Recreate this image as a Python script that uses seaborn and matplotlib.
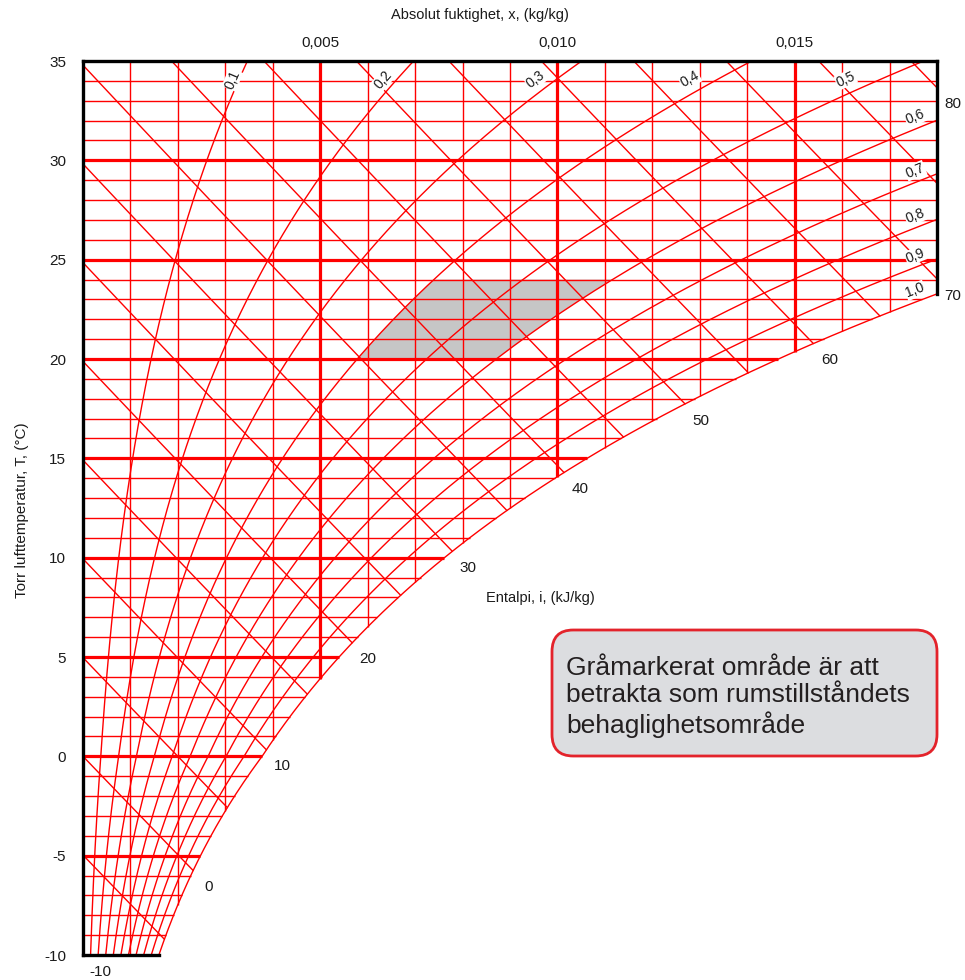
import numpy as np
import pandas as pd
import matplotlib
matplotlib.use("Agg")
import matplotlib.pyplot as plt
from matplotlib.patches import FancyBboxPatch
import seaborn as sns

# ---------------- chart content ----------------
rh_levels = [0.1, 0.2, 0.3, 0.4, 0.5, 0.6, 0.7, 0.8, 0.9, 1.0]
rh_labels = ["0,1", "0,2", "0,3", "0,4", "0,5", "0,6", "0,7", "0,8", "0,9", "1,0"]
enthalpy_levels = [-10, -5, 0, 5, 10, 15, 20, 25, 30, 35, 40, 45, 50, 55, 60, 65, 70, 75, 80]
enthalpy_labels = [-10, 0, 10, 20, 30, 40, 50, 60, 70, 80]
temp_ticks = [-10, -5, 0, 5, 10, 15, 20, 25, 30, 35]
humidity_ticks = [0.005, 0.010, 0.015]
humidity_tick_labels = ["0,005", "0,010", "0,015"]
temp_grid = list(range(-9, 35))
humidity_grid = [i / 1000 for i in range(1, 18)]
comfort_temp = [20, 24]
comfort_rh = [0.40, 0.60]
pressure = 101325.0
t_min, t_max = -10.0, 35.0
x_max = 0.018
note = "Gråmarkerat område är att\nbetrakta som rumstillståndets\nbehaglighetsområde"

RED = "#ff0000"
THIN, THICK, FRAME = 1.0, 2.3, 2.4


# ---------------- moist air relations ----------------
def p_sat(t):
    t = np.asarray(t, float)
    water = 611.2 * np.exp(17.62 * t / (243.12 + t))
    ice = 611.2 * np.exp(22.46 * t / (272.62 + t))
    return np.where(t < 0, ice, water)


def humidity(t, phi):
    pv = phi * p_sat(t)
    return 0.622 * pv / (pressure - pv)


def enthalpy(t, x):
    return 1.006 * t + x * (2501 + 1.86 * t)


def t_of_h(h, x):
    return (h - 2501 * x) / (1.006 + 1.86 * x)


def bisect(f, lo, hi, n=80):
    flo = f(lo)
    for _ in range(n):
        mid = 0.5 * (lo + hi)
        if (f(mid) > 0) == (flo > 0):
            lo, flo = mid, f(mid)
        else:
            hi = mid
    return 0.5 * (lo + hi)


def sat_temp(x, phi=1.0):
    return bisect(lambda t: float(humidity(t, phi)) - x, -40, 60)


# ---------------- figure ----------------
sns.set_theme(style="white")
plt.rcParams["font.family"] = ["Liberation Sans", "DejaVu Sans"]

fig = plt.figure(figsize=(9.65, 9.80), dpi=100)
ax = fig.add_axes([83 / 965, 1 - 955 / 980, (937 - 83) / 965, (955 - 61) / 980])
ax.set_xlim(0, x_max)
ax.set_ylim(t_min, t_max)
for s in ax.spines.values():
    s.set_visible(False)

# comfort zone
tz = np.linspace(comfort_temp[0], comfort_temp[1], 60)
zone_x = np.concatenate([humidity(tz, comfort_rh[0]), humidity(tz[::-1], comfort_rh[1])])
zone_t = np.concatenate([tz, tz[::-1]])
ax.fill(zone_x, zone_t, color="#c6c6c6", lw=0, zorder=1)

# constant temperature lines
for t in temp_grid:
    xe = min(float(humidity(t, 1.0)), x_max)
    ax.plot([0, xe], [t, t], color=RED, lw=THICK if t % 5 == 0 else THIN,
            solid_capstyle="butt", zorder=2)

# constant humidity lines
for x in humidity_grid:
    ts = sat_temp(x)
    thick = round(x * 1000) % 5 == 0
    ax.plot([x, x], [ts, t_max], color=RED, lw=THICK if thick else THIN,
            solid_capstyle="butt", zorder=2)

# relative humidity curves
rh_rows = []
for phi in rh_levels:
    t_end = t_max
    if float(humidity(t_max, phi)) > x_max:
        t_end = sat_temp(x_max, phi)
    tt = np.linspace(t_min, t_end, 300)
    rh_rows.append(pd.DataFrame({"x": humidity(tt, phi), "T": tt, "phi": phi}))
rh_df = pd.concat(rh_rows, ignore_index=True)
sns.lineplot(data=rh_df, x="x", y="T", units="phi", estimator=None, sort=False,
             color=RED, lw=THIN, legend=False, ax=ax, zorder=3)

# enthalpy lines
h_rows = []
h_ends = {}
for h in enthalpy_levels:
    # start on the left or top edge
    if t_of_h(h, 0.0) <= t_max:
        x0 = 0.0
    else:
        x0 = (h - 1.006 * t_max) / (2501 + 1.86 * t_max)
    # end on saturation, right edge or bottom edge
    t_sat = bisect(lambda t: enthalpy(t, float(humidity(t, 1.0))) - h, -40, 60)
    x1 = float(humidity(t_sat, 1.0))
    x1 = min(x1, x_max)
    if t_of_h(h, x1) < t_min:
        x1 = (h - 1.006 * t_min) / (2501 + 1.86 * t_min)
    xx = np.linspace(x0, x1, 50)
    h_rows.append(pd.DataFrame({"x": xx, "T": t_of_h(h, xx), "h": h}))
    h_ends[h] = (x1, float(t_of_h(h, x1)))
h_df = pd.concat(h_rows, ignore_index=True)
sns.lineplot(data=h_df, x="x", y="T", units="h", estimator=None, sort=False,
             color=RED, lw=THIN, legend=False, ax=ax, zorder=3)
ax.set_xlabel("")
ax.set_ylabel("")

# chart frame
t_edge = sat_temp(x_max)
frame_kw = dict(color="black", lw=FRAME, zorder=5, solid_capstyle="projecting",
                clip_on=False)
ax.plot([0, 0], [t_min, t_max], **frame_kw)
ax.plot([0, x_max], [t_max, t_max], **frame_kw)
ax.plot([x_max, x_max], [t_edge, t_max], **frame_kw)
ax.plot([0, float(humidity(t_min, 1.0))], [t_min, t_min], **frame_kw)

# enthalpy values beyond line ends
for h in enthalpy_labels:
    ax.annotate(str(h), h_ends[h], xytext=(11.5, -12), textcoords="offset points",
                ha="center", va="center", fontsize=11, color="#1a1a1a",
                annotation_clip=False)


# relative humidity values along their curves
def curve_angle(phi, t):
    p0 = ax.transData.transform((float(humidity(t, phi)), t))
    p1 = ax.transData.transform((float(humidity(t + 0.05, phi)), t + 0.05))
    ang = np.degrees(np.arctan2(p1[1] - p0[1], p1[0] - p0[0]))
    if ang > 90:
        ang -= 180
    return ang


for phi, lab in zip(rh_levels, rh_labels):
    if phi <= 0.5:
        t = 33.3
        off = (0, 11)
    else:
        t = sat_temp(0.01754, phi)
        off = (0, 8.5)
    ax.annotate(lab, (float(humidity(t, phi)), t), xytext=off,
                textcoords="offset points", ha="center", va="center",
                rotation=curve_angle(phi, t), rotation_mode="anchor",
                fontsize=10, color="#1a1a1a", zorder=6,
                bbox=dict(fc="white", ec="none", pad=0.4))

# axes ticks and titles
ax.set_yticks(temp_ticks)
ax.set_yticklabels([str(t) for t in temp_ticks])
ax.xaxis.tick_top()
ax.set_xticks(humidity_ticks)
ax.set_xticklabels(humidity_tick_labels)
ax.tick_params(axis="y", length=0, pad=12, labelsize=11, labelcolor="#1a1a1a")
ax.tick_params(axis="x", length=0, pad=8, labelsize=11, labelcolor="#1a1a1a")
ax.grid(False)

fig.text(480 / 965, 1 - 15 / 980, "Absolut fuktighet, x, (kg/kg)", ha="center",
         va="center", fontsize=10.5, color="#1a1a1a")
fig.text(22 / 965, 1 - 510 / 980, "Torr lufttemperatur, T, (°C)", rotation=90,
         ha="center", va="center", fontsize=11, color="#1a1a1a")
fig.text(540 / 965, 1 - 598 / 980, "Entalpi, i, (kJ/kg)", ha="center", va="center",
         fontsize=10.5, color="#1a1a1a")

# note box
box = FancyBboxPatch((552 / 965, 1 - 756 / 980), (937 - 552) / 965, (756 - 630) / 980,
                     boxstyle="round,pad=0,rounding_size=0.022",
                     transform=fig.transFigure, fc="#dcdde0", ec="#e3232b", lw=2.0,
                     zorder=10)
fig.add_artist(box)
fig.text(566 / 965, 1 - 733 / 980, note, ha="left", va="baseline", fontsize=19,
         linespacing=1.18, color="#231f20", zorder=11)

fig.savefig("out.png", dpi=100)
